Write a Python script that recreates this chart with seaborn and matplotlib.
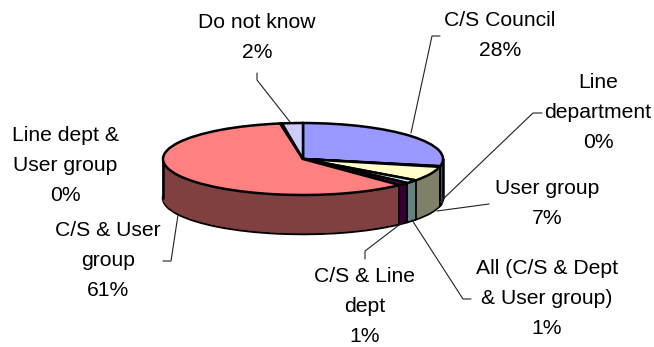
import numpy as np
import matplotlib
matplotlib.use("Agg")
import matplotlib.pyplot as plt
import seaborn as sns

categories = ["C/S Council", "Line\ndepartment", "User group", "All (C/S & Dept\n& User group)",
              "C/S & Line\ndept", "C/S & User\ngroup", "Line dept &\nUser group", "Do not know"]
values = [28.2, 0.3, 6.6, 1.5, 1.3, 59.5, 0.2, 2.4]
percent_labels = ["28%", "0%", "7%", "1%", "1%", "61%", "0%", "2%"]
top_colors = ["#9999FF", "#993366", "#FFFFCC", "#CCFFFF", "#660066", "#FF8080", "#0066CC", "#CCCCFF"]
wall_colors = ["#4C4C80", "#4C1933", "#808066", "#668080", "#330033", "#804040", "#003366", "#666680"]

label_pos = [(500, 20), (598, 82), (547, 188), (547, 268), (365, 277), (108, 230), (65, 135), (257, 22)]
leaders = [
    [(440, 36), (432, 36), (411, 133)],
    [(542, 113), (533, 113), (440, 202)],
    [(489, 204), (437, 211)],
    [(471, 299), (463, 299), (412, 220)],
    [(365, 259), (365, 251), (403, 222)],
    [(163, 261), (171, 261), (178, 215)],
    [],
    [(257, 73), (257, 80), (290, 122)],
]

W, H = 654, 347
CX, CY, A, B, DEPTH = 303, 159, 140, 36, 39

sns.set_theme(style="white")
plt.rcParams["font.family"] = ["Liberation Sans", "DejaVu Sans"]
fig = plt.figure(figsize=(W / 100, H / 100), dpi=100, facecolor="white")
ax = fig.add_axes([0, 0, 1, 1])

top_pal = sns.color_palette(top_colors)
wall_pal = sns.color_palette(wall_colors)
d_units = DEPTH / B
EDGE = 1.8

# bottom rim with outline
w, _ = ax.pie(values, colors=wall_pal, startangle=90, counterclock=False,
              center=(0, -d_units), wedgeprops=dict(edgecolor="black", linewidth=EDGE))
# wall body
for k in np.arange(DEPTH - 1, 0, -1):
    w, _ = ax.pie(values, colors=wall_pal, startangle=90, counterclock=False,
                  center=(0, -k / B), wedgeprops=dict(linewidth=0.6))
    for p in w:
        p.set_edgecolor(p.get_facecolor())

# vertical seams at the slice boundaries that face the viewer
cum = np.cumsum(values) / np.sum(values)
angles = np.deg2rad(90 - 360 * cum)
for a in angles:
    if np.sin(a) < 0:
        ax.plot([np.cos(a)] * 2, [np.sin(a), np.sin(a) - d_units], color="black", lw=EDGE * 0.7, zorder=5)
for sx in (-1, 1):
    ax.plot([sx, sx], [0, -d_units], color="black", lw=EDGE, zorder=5)

# top face
ax.pie(values, colors=top_pal, startangle=90, counterclock=False,
       wedgeprops=dict(edgecolor="black", linewidth=EDGE, zorder=6))
for p in ax.patches[-len(values):]:
    p.set_zorder(6)

ax.set_aspect("auto")
ax.set_xlim((0 - CX) / A, (W - CX) / A)
ax.set_ylim((CY - H) / B, CY / B)
ax.axis("off")

ov = fig.add_axes([0, 0, 1, 1], facecolor="none")
ov.set_xlim(0, W)
ov.set_ylim(H, 0)
ov.axis("off")
for name, pct, (x, y), seg in zip(categories, percent_labels, label_pos, leaders):
    lines = name.split("\n") + [pct]
    for i, line in enumerate(lines):
        ov.text(x, y + i * 30, line, ha="center", va="center", fontsize=15.2, color="black")
    if seg:
        xs, ys = zip(*seg)
        ov.plot(xs, ys, color="#222222", lw=0.8)

fig.savefig("out.png", dpi=100, facecolor="white")
